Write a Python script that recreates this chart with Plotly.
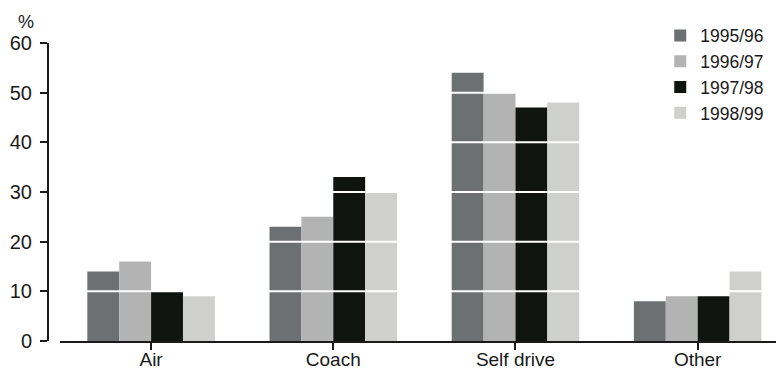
import plotly.graph_objects as go

categories = ["Air", "Coach", "Self drive", "Other"]
years = ["1995/96", "1996/97", "1997/98", "1998/99"]
values_9596 = [14, 23, 54, 8]
values_9697 = [16, 25, 50, 9]
values_9798 = [10, 33, 47, 9]
values_9899 = [9, 30, 48, 14]
y_ticks = [0, 10, 20, 30, 40, 50, 60]
colors = ["#6d7070", "#b3b3b3", "#0f1410", "#cfcfcd"]

series = [values_9596, values_9697, values_9798, values_9899]

font_family = "Liberation Sans, Arial, sans-serif"
ink = "#1a1a1a"

fig = go.Figure()
for name, vals, col in zip(years, series, colors):
    fig.add_trace(go.Bar(x=categories, y=vals, name=name,
                         marker=dict(color=col, line=dict(width=0))))

W, H = 776, 369
ml, mr, mt, mb = 48, 0, 43, 28
pw = W - ml - mr
x0 = 12 / pw

# white gridlines drawn over the bars
shapes = [dict(type="line", xref="paper", yref="y", x0=x0, x1=1, y0=v, y1=v,
               line=dict(color="white", width=2), layer="above")
          for v in y_ticks[1:-1]]

fig.update_layout(
    width=W, height=H,
    margin=dict(l=ml, r=mr, t=mt, b=mb, autoexpand=False),
    plot_bgcolor="white", paper_bgcolor="white",
    barmode="group", bargap=0.3, bargroupgap=0,
    font=dict(family=font_family, color=ink),
    showlegend=True,
    legend=dict(x=0.841, y=1.085, xanchor="left", yanchor="top",
                font=dict(size=17.5, family=font_family, color=ink),
                bgcolor="rgba(0,0,0,0)", tracegroupgap=0,
                itemwidth=30, traceorder="normal"),
    xaxis=dict(domain=[x0, 1], range=[-0.5, 3.43], automargin=False,
               showline=True, linecolor=ink, linewidth=2,
               ticks="outside", ticklen=7, tickwidth=1.5, tickcolor=ink,
               ticklabelstandoff=-7,
               tickfont=dict(size=19, family=font_family, color=ink),
               showgrid=False, zeroline=False),
    yaxis=dict(anchor="free", position=0, range=[0, 60], tickvals=y_ticks,
               automargin=False,
               showline=True, linecolor=ink, linewidth=2,
               ticks="outside", ticklen=7, tickwidth=1.5, tickcolor=ink,
               ticklabelstandoff=4,
               tickfont=dict(size=20, family=font_family, color=ink),
               showgrid=False, zeroline=False),
    shapes=shapes,
    annotations=[dict(text="%", xref="paper", yref="paper", x=-0.03, y=1.03,
                      xanchor="center", yanchor="bottom", showarrow=False,
                      font=dict(size=18, family=font_family, color=ink))],
)

fig.write_html("out.html")
